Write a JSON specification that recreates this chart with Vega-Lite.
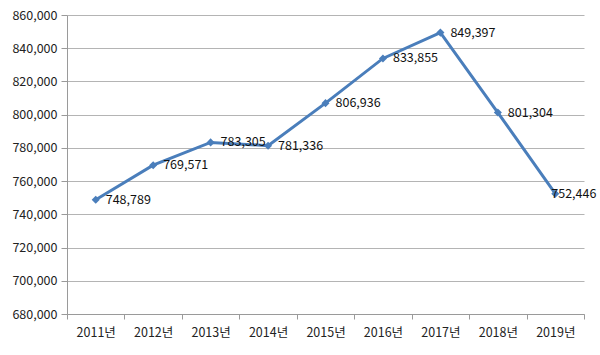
{
  "$schema": "https://vega.github.io/schema/vega-lite/v6.json",
  "autosize": "none",
  "width": 517,
  "height": 299,
  "padding": {"left": 67, "top": 15, "right": 16, "bottom": 41},
  "background": "white",
  "config": {
    "view": {"stroke": null},
    "font": "Noto Sans CJK KR",
    "axis": {"labelFont": "Noto Sans CJK KR", "labelFontSize": 12.5, "labelColor": "#222222", "domainColor": "#9a9a9a", "tickColor": "#9a9a9a", "gridColor": "#b4b4b4", "title": null}
  },
  "data": {
    "values": [
      {"year": "2011년", "value": 748789},
      {"year": "2012년", "value": 769571},
      {"year": "2013년", "value": 783305},
      {"year": "2014년", "value": 781336},
      {"year": "2015년", "value": 806936},
      {"year": "2016년", "value": 833855},
      {"year": "2017년", "value": 849397},
      {"year": "2018년", "value": 801304},
      {"year": "2019년", "value": 752446}
    ]
  },
  "encoding": {
    "x": {
      "field": "year", "type": "ordinal",
      "scale": {"type": "band", "paddingInner": 0, "paddingOuter": 0},
      "axis": {"labelAngle": 0, "tickBand": "extent", "tickSize": 5, "labelPadding": 7, "grid": false, "domainColor": "#9a9a9a"}
    },
    "y": {
      "field": "value", "type": "quantitative",
      "scale": {"domain": [680000, 860000], "nice": false, "zero": false},
      "axis": {"values": [680000, 700000, 720000, 740000, 760000, 780000, 800000, 820000, 840000, 860000], "format": ",d", "tickSize": 6, "labelPadding": 4, "grid": true}
    }
  },
  "layer": [
    {"mark": {"type": "line", "color": "#4a7ebb", "strokeWidth": 3}},
    {"mark": {"type": "point", "shape": "diamond", "filled": true, "color": "#4a7ebb", "size": 65, "opacity": 1}},
    {"transform": [{"filter": "datum.year != '2019년'"}],
     "mark": {"type": "text", "align": "left", "baseline": "middle", "dx": 10, "dy": 0, "fontSize": 12.5, "color": "#111111"},
     "encoding": {"text": {"field": "value", "type": "quantitative", "format": ",d"}}},
    {"transform": [{"filter": "datum.year == '2019년'"}],
     "mark": {"type": "text", "align": "left", "baseline": "middle", "dx": -4, "dy": 0, "fontSize": 12.5, "color": "#111111"},
     "encoding": {"text": {"field": "value", "type": "quantitative", "format": ",d"}}}
  ]
}
